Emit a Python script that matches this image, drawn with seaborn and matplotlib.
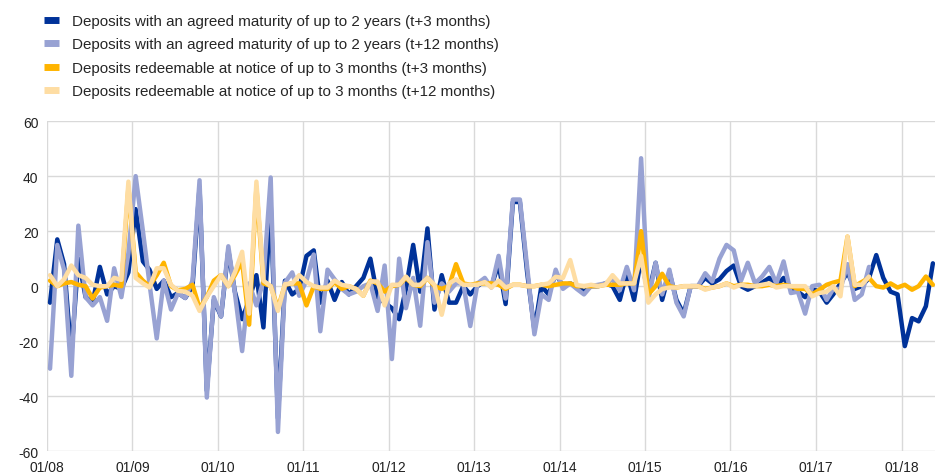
import pandas as pd
import matplotlib.pyplot as plt
import matplotlib.dates as mdates
from matplotlib.lines import Line2D
import seaborn as sns

# monthly observations, Jan 2008 - May 2018 (t+12 series stop 9 months earlier)
dates = pd.date_range("2008-01-01", periods=125, freq="MS") + pd.Timedelta(days=14)

agreed_3m = [
    -6, 17, 8, -25, 10, -4, -6, 7, -3, 0, -1, 5, 28, 9, 6, -1, 2, -4, -2.5, -4.3,
    0, 36, -38, -5, -11, 13, -2, -12, -5, 4, -15, 30, -48, 2, -3, -1, 11, 13, -6, 2,
    -5, 1.5, -3, 0, 3, 10, -4, -6, -8, -12, -1, 15, -2, 21, -8.5, 4, -6, -6, 0, -3,
    0, 2, 0, 8, -6.5, 30.6, 30.6, 5, -16, 0, -3, 4.6, 0, 1, 0, -2, 0, 0, 1, 0,
    -5, 5, -5, 10, -3, 8.5, -5, 5, -5, -10, 0, 0, 3, 1, 2.5, 5.5, 7.5, 0, -1.3, 0,
    1.3, 3, 0, 3, -1, -2, -4, -1, -2, -6, -3, 1, 5, -1, 0, 3, 11.3, 3, -2, -3,
    -21.8, -11.6, -12.8, -7.3, 8.3,
]
agreed_12m = [
    -30, 15, 6, -32.6, 22, -4, -7, -4, -12.6, 6.5, -4, 12, 40, 20, 1, -19, 2, -8.5, -2.5, -4.3,
    2, 38.5, -40.5, -4, -11, 14.5, -2.5, -23.6, 1, -7, 2, 39.5, -53, 1.3, 5, -3.5, 2, 11.5, -16.4, 6,
    2.5, -1, -3, -2, 0, 1, -9, 7.5, -26.5, 10, -8, 3, -14.4, 16, -6, 1, -2, 1, 1, -14.5,
    1, 3, -0.5, 11, -4.5, 31.5, 31.5, 7, -17.5, -3, -5, 6, -1, 1, -1, -3, 0, 0.5, 1, 2.5,
    -1.5, 7, -1.5, 46.5, -5, 8.5, -3, 6, -6, -11, 0, 0, 4.7, 1.7, 10, 15, 13, 2, 8.5, 1,
    3.5, 7, 1, 9, -2.5, -2, -10, 0, 0.5, -5, -1, -1, 8, -5, -3, 7,
]
notice_3m = [
    2, 0, 1, 1.5, 0.5, 0, -4.5, -0.5, 0, 0.5, 0, 36, 5, 2, 0, 4, 8.5, 0, -1.5, -1,
    0.5, -8, -4, 2, 4, 0, 4, 9, -14, 36, 1, 0, -8, 0.5, 1, 1, -7, 0, -1, -1,
    1.5, -1, 0, -1, -3.5, 2, 1, -2, 0, 0.5, 3, 0.5, 0, 3, 0, -1, 0, 8, 1, 0.5,
    1, 1, 1, 0.5, -1, 0.5, 0.5, 0, 0, 0.5, 0, 0.5, 1, 1, 0, 0, 0, 0, 0.5, 0.5,
    0.5, 1, 1, 20, -3, 0, 4.5, 0, -0.5, 0, 0, 0, -1, -0.5, 0, 1, 0, 0.5, 0.5, 0,
    0, 0.5, 0, 0.5, 0, -1, -1, -3, -1.3, 0.5, 1.3, 2, 18, 0, 1.5, 3, 0, -0.5, 1, -0.5,
    0.5, -1.3, 0, 3.5, 0.5,
]
notice_12m = [
    4, 0, 2.5, 7.5, 4, 3, 0.5, 0, 0, 3, 2.3, 38, 3, 1, -0.5, 6.5, 6.5, 0.5, -1.7, -2,
    -3.5, -9, -4, 0, 4, 0, 5, 12.5, -10, 38, 2, 0, -9, 0.7, 1, 4, 1.5, 0, -0.5, -0.5,
    2, 0.5, 0, -1, -3.5, 1.7, 1.7, -7, 0.5, 0.5, 3.5, 0.5, 0.5, 3, 0.5, -10.4, 1, 2.5, 0.5, 0.5,
    0.5, 1.5, -0.5, 2, -0.5, 0.5, 0.5, 0, 0, 0.5, 1, 3.4, 3, 9.5, 0.4, 0, 0.5, 0, 0.5, 4,
    1, 1, 1, 11, -6, -3, -1, -0.5, -0.5, 0, 0, 0, -1.3, -0.5, 0, 1, -0.5, 0.5, 0, 0,
    0.5, 1, -0.5, 0, 0, 0, 0, -3.7, -2.5, -2, 0, -3.7, 18, 0.5, 0.5, 3.5,
]

labels = [
    "Deposits with an agreed maturity of up to 2 years (t+3 months)",
    "Deposits with an agreed maturity of up to 2 years (t+12 months)",
    "Deposits redeemable at notice of up to 3 months (t+3 months)",
    "Deposits redeemable at notice of up to 3 months (t+12 months)",
]
colors = ["#003299", "#98a2d3", "#ffb400", "#fedda3"]
series = [agreed_3m, agreed_12m, notice_3m, notice_12m]

sns.set_style("white")
plt.rcParams["font.family"] = ["Liberation Sans", "DejaVu Sans"]
plt.rcParams["axes.unicode_minus"] = False

fig = plt.figure(figsize=(9.35, 4.77), dpi=100)
ax = fig.add_axes([0.050, 0.052, 0.952, 0.692])

for vals, col in zip(series, colors):
    df = pd.DataFrame({"date": dates[:len(vals)], "value": vals})
    sns.lineplot(data=df, x="date", y="value", ax=ax, color=col, linewidth=3.2)

ax.set_xlim(pd.Timestamp("2008-01-01"), pd.Timestamp("2018-06-01"))
ax.set_ylim(-60, 60)
ax.set_yticks(range(-60, 61, 20))
ax.xaxis.set_major_locator(mdates.YearLocator())
ax.xaxis.set_major_formatter(mdates.DateFormatter("%m/%y"))
ax.grid(True, color="#d9d9d9", linewidth=1)
ax.set_axisbelow(True)
for s in ax.spines.values():
    s.set_visible(False)
ax.tick_params(length=0, labelsize=10, colors="#222222", pad=6)
ax.set_xlabel("")
ax.set_ylabel("")

handles = [Line2D([0], [0], color=c, linewidth=5, solid_capstyle="butt") for c in colors]
fig.legend(handles, labels, loc="upper left", bbox_to_anchor=(0.032, 0.997),
           frameon=False, fontsize=10.9, handlelength=1.05, handletextpad=0.85,
           labelspacing=0.62)

fig.savefig("out.png", dpi=100)
